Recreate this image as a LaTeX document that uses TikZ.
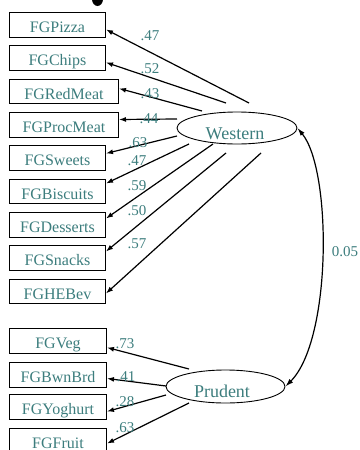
\documentclass[tikz,border=0pt]{standalone}
\usepackage{fontspec}
\setmainfont{Liberation Serif}
\usetikzlibrary{arrows.meta,shapes.geometric}
\definecolor{semtext}{RGB}{60,125,125}

\begin{document}
\begin{tikzpicture}[x=1pt,y=-1pt,
  obs/.style={draw, line width=1pt, rectangle, inner sep=0pt,
    minimum height=24.5pt, text height=15.4pt, text depth=0pt,
    font=\fontsize{16}{18}\selectfont, text=semtext, anchor=north west},
  lat/.style={draw, line width=0.9pt, ellipse, inner sep=0pt,
    minimum width=120pt, minimum height=32pt},
  lattext/.style={font=\fontsize{18}{20}\selectfont, text=semtext, inner sep=0pt},
  coef/.style={font=\fontsize{15}{17}\selectfont, text=semtext, inner sep=0pt},
  load/.style={line width=1.2pt, -{Latex[length=7pt,width=5pt]}},
  cov/.style={line width=1.2pt, {Latex[length=8pt,width=5pt]}-{Latex[length=8pt,width=5pt]}},
]
\useasboundingbox (0,0) rectangle (359,450);

% edge of a shape cut off at the top border
\begin{scope}
  \clip (0,0) rectangle (359,450);
  \fill (97.5,-1) ellipse [x radius=5.5pt, y radius=7pt];
\end{scope}

% observed indicators
\node[obs, minimum width=96pt]  (pizza)    at (9,12)    {FGPizza};
\node[obs, minimum width=96pt]  (chips)    at (9,45.3)  {FGChips};
\node[obs, minimum width=109pt] (redmeat)  at (9,78.6)  {FGRedMeat};
\node[obs, minimum width=109pt] (procmeat) at (9,112)   {FGProcMeat};
\node[obs, minimum width=96pt]  (sweets)   at (9,145.3) {FGSweets};
\node[obs, minimum width=96pt]  (biscuits) at (9,178.6) {FGBiscuits};
\node[obs, minimum width=96pt]  (desserts) at (9,212)   {FGDesserts};
\node[obs, minimum width=96pt]  (snacks)   at (9,245.3) {FGSnacks};
\node[obs, minimum width=96pt]  (hebev)    at (9,278.6) {FGHEBev};

\node[obs, minimum width=97pt]  (veg)      at (9,328)   {FGVeg};
\node[obs, minimum width=97pt]  (bwnbrd)   at (9,362)   {FGBwnBrd};
\node[obs, minimum width=97pt]  (yoghurt)  at (9,394)   {FGYoghurt};
\node[obs, minimum width=97pt]  (fruit)    at (9,428)   {FGFruit};

% latent factors
\node[lat] (west) at (237,128) {};
\node[lattext] (westlbl) at (235,133.5) {Western};
\node[lat, minimum width=119pt, minimum height=33pt] (prud) at (225.5,386.5) {};
\node[lattext] (prudlbl) at (222,391.5) {Prudent};

% start points of the loading arrows
\coordinate (w1) at (249,103);
\coordinate (w2) at (226,103);
\coordinate (w3) at (202,111);
\coordinate (w4) at (177,119);
\coordinate (w5) at (177,136);
\coordinate (w6) at (189,144);
\coordinate (w7) at (213,144);
\coordinate (w8) at (226,153);
\coordinate (w9) at (261,153);
\coordinate (p1) at (189,369);
\coordinate (p2) at (166,386);
\coordinate (p3) at (166,395);
\coordinate (p4) at (189,403);

% factor loadings
\draw[load] (w1) -- ([yshift=-4.75pt]pizza.east);
\draw[load] (w2) -- ([yshift=-4.4pt]chips.east);
\draw[load] (w3) -- ([yshift=2.9pt]redmeat.east);
\draw[load] (w4) -- ([yshift=5.25pt]procmeat.east);
\draw[load] (w5) -- ([yshift=4.6pt]sweets.east);
\draw[load] (w6) -- ([yshift=7.9pt]biscuits.east);
\draw[load] (w7) -- ([yshift=6.25pt]desserts.east);
\draw[load] (w8) -- ([yshift=6.6pt]snacks.east);
\draw[load] (w9) -- ([yshift=-2.1pt]hebev.east);
\draw[load] (p1) -- ([yshift=-6.75pt]veg.east);
\draw[load] (p2) -- ([yshift=-3.75pt]bwnbrd.east);
\draw[load] (p3) -- ([yshift=-4.75pt]yoghurt.east);
\draw[load] (p4) -- ([yshift=-2.75pt]fruit.east);

% factor covariance
\draw[cov] (west.east) .. controls (332,170) and (332,340) .. (prud.east);

% coefficient labels
\node[coef] (c1)  at (150,36)  {.47};
\node[coef] (c2)  at (150,69)  {.52};
\node[coef] (c3)  at (150,94)  {.43};
\node[coef] (c4)  at (149,119) {.44};
\node[coef] (c5)  at (138,143) {.63};
\node[coef] (c6)  at (137,161) {.47};
\node[coef] (c7)  at (137,186) {.59};
\node[coef] (c8)  at (137,211) {.50};
\node[coef] (c9)  at (137,244) {.57};
\node[coef] (c10) at (125,344) {.73};
\node[coef] (c11) at (126,377) {.41};
\node[coef] (c12) at (125,402) {.28};
\node[coef] (c13) at (125,428) {.63};
\node[coef] (c14) at (345,252) {0.05};
\end{tikzpicture}
\end{document}
